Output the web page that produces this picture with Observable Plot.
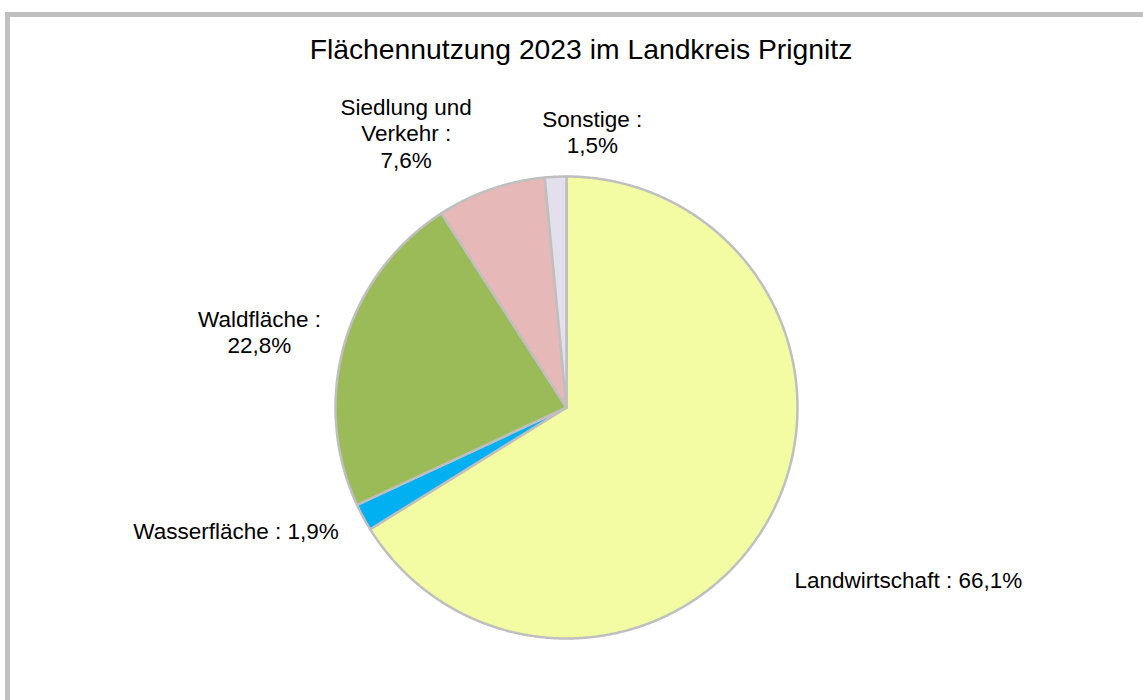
<!DOCTYPE html>
<html><head><meta charset="utf-8">
<script src="https://cdn.jsdelivr.net/npm/d3@7"></script>
<script src="https://cdn.jsdelivr.net/npm/@observablehq/plot@0.6"></script>
<style>
body{margin:0;background:#fff;font-family:"Liberation Sans",Arial,sans-serif;overflow:hidden}
#frame{position:absolute;left:5px;top:12px;width:1200px;height:800px;border:5px solid #c0c0c0;box-sizing:border-box}
#title{position:absolute;left:0;top:33px;width:1162px;text-align:center;font-size:28.3px;line-height:32px;color:#000}
#chart{position:absolute;left:0;top:80px}
</style></head><body>
<div id="frame"></div>
<div id="title">Flächennutzung 2023 im Landkreis Prignitz</div>
<div id="chart"></div>
<script>
// ---- data ----
const categories = ["Landwirtschaft", "Wasserfläche", "Waldfläche", "Siedlung und Verkehr", "Sonstige"];
const shares = [66.1, 1.9, 22.8, 7.6, 1.5];
const labelTexts = ["Landwirtschaft : 66,1%", "Wasserfläche : 1,9%", "Waldfläche :\n22,8%", "Siedlung und\nVerkehr :\n7,6%", "Sonstige :\n1,5%"];
const sliceColors = ["#f3fca2", "#00b0f0", "#9bbb59", "#e6b9b8", "#e4dfec"];

// ---- layout ----
const W = 1143, H = 620;
const R = 231;            // pie radius in px
const CX = 566, CY = 327; // pie centre in svg px
const FONT = 22.5;
// layout nudges for data labels (px), mimicking the spreadsheet's label placement
const labelNudge = {"Landwirtschaft": [2, -46], "Sonstige": [38, -4], "Siedlung und Verkehr": [-10, -5], "Waldfläche": [3, 4]};

const pie = d3.pie().sort(null).value(d => d)(shares);

// slice outlines as polygons in unit coordinates (y up, angle clockwise from top)
const slicePts = [];
pie.forEach((p, i) => {
  const cat = categories[i];
  slicePts.push({cat, x: 0, y: 0});
  const n = Math.max(2, Math.ceil((p.endAngle - p.startAngle) / (Math.PI / 720)));
  for (let k = 0; k <= n; k++) {
    const a = p.startAngle + (p.endAngle - p.startAngle) * k / n;
    slicePts.push({cat, x: Math.sin(a), y: Math.cos(a)});
  }
  slicePts.push({cat, x: 0, y: 0});
});

// labels
const ctx = document.createElement("canvas").getContext("2d");
ctx.font = `${FONT}px "Liberation Sans", Arial, sans-serif`;
const labels = pie.map((p, i) => {
  const mid = (p.startAngle + p.endAngle) / 2;
  const sx = Math.sin(mid), sy = Math.cos(mid);
  let x = sx * 1.12, y = sy * 1.12;
  const w = d3.max(labelTexts[i].split("\n"), s => ctx.measureText(s).width) / R;
  if (sx > 0.3) x += w / 2; else if (sx < -0.3) x -= w / 2;
  const la = sy > 0.7 ? "bottom" : "middle";
  const nd = labelNudge[categories[i]] || [0, 0];
  return {text: labelTexts[i], x: x + nd[0] / R, y: y + nd[1] / R, la};
});

const chart = Plot.plot({
  width: W, height: H,
  marginTop: 0, marginRight: 0, marginBottom: 0, marginLeft: 0,
  x: {domain: [-CX / R, (W - CX) / R], axis: null},
  y: {domain: [-(H - CY) / R, CY / R], axis: null},
  color: {type: "ordinal", domain: categories, range: sliceColors},
  style: {background: "transparent", fontFamily: '"Liberation Sans", Arial, sans-serif', color: "#000"},
  marks: [
    Plot.line(slicePts, {x: "x", y: "y", z: "cat", fill: "cat", stroke: "#bfbfbf", strokeWidth: 2.5, strokeLinejoin: "round"}),
    Plot.text(labels.filter(d => d.la === "middle"), {x: "x", y: "y", text: "text", textAnchor: "middle", lineAnchor: "middle", fontSize: FONT, lineHeight: 1.18, fill: "#000"}),
    Plot.text(labels.filter(d => d.la === "bottom"), {x: "x", y: "y", text: "text", textAnchor: "middle", lineAnchor: "bottom", fontSize: FONT, lineHeight: 1.18, fill: "#000"})
  ]
});
document.getElementById("chart").appendChild(chart);
</script>
</body></html>
